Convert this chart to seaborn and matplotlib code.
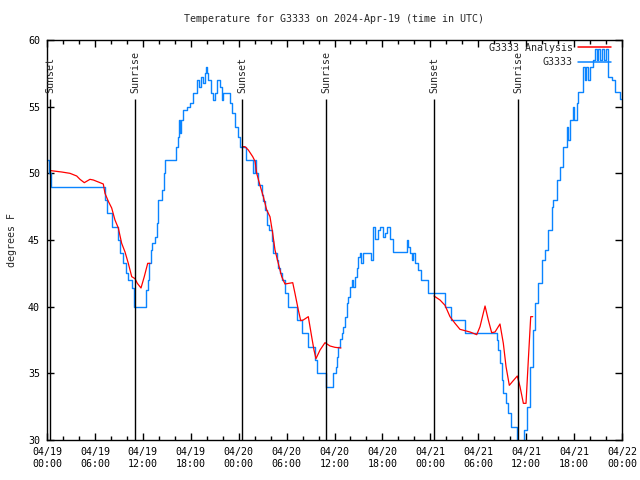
"""
Temperature for G3333: observations (step line) vs analysis, with sunrise/sunset markers.
"""

import matplotlib
matplotlib.use("Agg")
import matplotlib.pyplot as plt
import matplotlib.dates as mdates
from matplotlib.lines import Line2D
import pandas as pd
import seaborn as sns

START = pd.Timestamp("2024-04-19 00:00")

# observed temperature (hours since start, degrees F) - drawn as steps
obs_hours = [
    0.00, 0.25, 0.50, 7.26, 7.51, 8.14, 8.83, 9.14, 9.48, 9.85, 10.18, 10.61, 10.93,
    12.40, 12.61, 12.77, 12.99, 13.11, 13.52, 13.74, 13.94, 14.44, 14.59, 14.78,
    16.12, 16.44, 16.53, 16.65, 16.78, 17.07, 17.49, 17.91, 18.32, 18.75, 19.03,
    19.28, 19.53, 19.78, 19.91, 20.03, 20.20, 20.53, 20.82, 21.04, 21.25, 21.66,
    21.88, 22.08, 22.92, 23.20, 23.54, 23.95, 24.17, 24.88, 25.76, 26.05, 26.17,
    26.46, 26.88, 27.09, 27.30, 27.51, 27.84, 28.14, 28.34, 28.77, 28.96, 29.18,
    29.39, 29.80, 30.22, 31.27, 31.89, 32.72, 33.56, 33.77, 34.94, 35.78, 36.19,
    36.36, 36.49, 36.69, 36.90, 37.10, 37.32, 37.53, 37.73, 37.94, 38.16, 38.32,
    38.57, 38.78, 38.98, 39.19, 39.38, 39.61, 40.45, 40.57, 40.78, 40.86, 41.07,
    41.48, 41.70, 42.11, 42.32, 42.61, 42.95, 43.29, 45.04, 45.24, 45.45, 45.66,
    45.82, 46.08, 46.49, 46.83, 47.75, 49.84, 50.55, 52.34, 56.31, 56.51, 56.72,
    56.94, 57.14, 57.48, 57.76, 58.06, 58.89, 59.73, 60.07, 60.48, 60.89, 61.11,
    61.52, 61.95, 62.36, 62.77, 63.20, 63.40, 63.82, 64.24, 64.65, 65.07, 65.27,
    65.49, 65.82, 65.99, 66.33, 66.53, 67.16, 67.37, 67.55, 67.78, 67.99, 68.40,
    68.62, 68.81, 69.00, 69.25, 69.50, 69.75, 70.00, 70.29, 70.71, 71.13, 71.75,
    72.00,
]
obs_temps = [
    51.0, 50.0, 49.0, 48.0, 47.0, 46.0, 45.0, 44.0, 43.25, 42.5, 42.0, 41.4, 40.0,
    41.25, 42.0, 43.3, 44.25, 44.8, 45.25, 46.25, 48.0, 48.75, 50.0, 51.0,
    52.0, 52.75, 54.0, 53.0, 54.0, 54.75, 55.0, 55.25, 56.0, 57.0, 56.5,
    57.2, 56.8, 57.5, 58.0, 57.5, 57.0, 56.0, 55.5, 56.0, 57.0, 56.5,
    55.5, 56.0, 55.25, 54.5, 53.5, 52.75, 52.0, 51.0, 50.0, 51.0, 50.0,
    49.1, 48.4, 47.9, 47.25, 46.1, 45.75, 44.9, 44.0, 43.5, 42.9, 42.5,
    42.0, 41.0, 40.0, 39.0, 38.0, 37.0, 36.0, 35.0, 34.0, 35.0, 35.5,
    36.25, 37.0, 37.6, 38.0, 38.5, 39.25, 40.25, 40.75, 41.5, 42.0, 41.5,
    42.25, 42.9, 43.75, 44.0, 43.25, 44.0, 44.0, 43.5, 45.25, 46.0, 45.1,
    45.75, 46.0, 45.25, 45.5, 46.0, 45.1, 44.1, 45.0, 44.5, 44.0, 43.5,
    44.0, 43.25, 42.75, 42.0, 41.0, 40.0, 39.0, 38.0, 37.5, 36.75, 35.75,
    34.5, 33.5, 32.75, 32.0, 31.0, 29.0, 30.75, 32.5, 35.5, 38.25, 40.25,
    41.75, 43.5, 44.25, 45.75, 47.5, 48.0, 49.5, 50.5, 52.0, 53.5, 52.5,
    54.0, 55.0, 54.0, 55.25, 56.1, 58.0, 57.0, 58.0, 57.0, 58.0, 58.5,
    59.3, 58.5, 59.3, 58.5, 59.3, 58.5, 59.3, 57.25, 57.0, 56.1, 55.6,
    55.6,
]

# analysis temperature, only available between sunset and the following morning
ana_hours = [
    0.50, 1.84, 2.88, 3.72, 4.13, 4.67, 5.38, 5.80, 6.64, 7.05, 7.26, 7.68, 8.10,
    8.51, 8.93, 9.35, 9.77, 10.18, 10.61, 11.02, 11.31, 11.77, 12.18, 12.61, 12.90,
    24.45, 24.79, 25.21, 25.76, 26.05, 26.26, 26.67, 27.09, 27.51, 27.92, 28.26,
    28.55, 28.96, 29.39, 29.80, 30.77, 31.05, 31.47, 31.77, 32.09, 32.72, 33.14,
    33.43, 33.68, 34.19, 34.81, 35.44, 36.06, 36.81,
    48.46, 49.21, 49.84, 50.46, 51.09, 51.71, 52.34, 52.97, 53.81, 54.22, 54.85,
    55.26, 55.68, 56.10, 56.72, 57.14, 57.48, 57.89, 58.31, 58.89, 59.23, 59.65,
    59.98, 60.27, 60.57, 60.82,
]
ana_temps = [
    50.2, 50.1, 50.0, 49.8, 49.55, 49.3, 49.55, 49.5, 49.3, 49.2, 48.5, 47.9, 47.4,
    46.5, 45.9, 44.75, 44.1, 43.25, 42.25, 42.1, 41.75, 41.4, 42.25, 43.25, 43.25,
    52.0, 52.0, 51.75, 51.25, 50.9, 50.0, 49.1, 48.25, 47.25, 46.75, 45.5,
    44.25, 43.25, 42.25, 41.7, 41.8, 41.0, 39.75, 38.95, 39.0, 39.25, 37.75,
    36.75, 36.1, 36.75, 37.3, 37.05, 36.95, 36.9,
    40.8, 40.5, 40.1, 39.25, 38.75, 38.3, 38.2, 38.1, 37.9, 38.5, 40.05,
    39.0, 38.05, 38.1, 38.7, 37.25, 35.5, 34.1, 34.4, 34.8, 34.0, 32.75,
    32.75, 36.0, 39.25, 39.25,
]
# one id per night: the analysis line is broken between nights
ana_segment = [1] * 25 + [2] * 29 + [3] * 26

sunset_hours = [0.42, 24.45, 48.5]
sunrise_hours = [11.06, 34.98, 59.0]

OBS_COLOR = "#0a84ff"
ANA_COLOR = "#ff0000"
FONT = ["DejaVu Sans Mono"]
FS = 7.2


def to_time(hours):
    return START + pd.to_timedelta(pd.Series(hours), unit="h")


obs = pd.DataFrame({"time": to_time(obs_hours), "temp": obs_temps})
ana = pd.DataFrame({"time": to_time(ana_hours), "temp": ana_temps, "seg": ana_segment})

sns.set_style("ticks")
plt.rcParams["font.family"] = FONT
plt.rcParams["font.size"] = FS

fig = plt.figure(figsize=(6.4, 4.8), dpi=100)
ax = fig.add_axes([47 / 640, 40 / 480, 575 / 640, 400 / 480])

sns.lineplot(data=obs, x="time", y="temp", ax=ax, color=OBS_COLOR,
             linewidth=1.0, drawstyle="steps-post", legend=False)
sns.lineplot(data=ana, x="time", y="temp", units="seg", estimator=None, ax=ax,
             color=ANA_COLOR, linewidth=0.9, legend=False)

# sunrise / sunset markers: the label sits right above the top of the line
for label, hours in (("Sunset", sunset_hours), ("Sunrise", sunrise_hours)):
    for t in to_time(hours):
        ax.vlines(t, 30, 55.6, color="black", linewidth=1.0)
        ax.text(t, 56.0, label, rotation=90, ha="center", va="bottom", fontsize=FS)

ax.set_xlim(START, START + pd.Timedelta(hours=72))
ax.set_ylim(30, 60)
ax.set_yticks(range(30, 61, 5))
ax.xaxis.set_major_locator(mdates.HourLocator(byhour=[0, 6, 12, 18]))
ax.xaxis.set_minor_locator(mdates.HourLocator(byhour=range(0, 24, 2)))
ax.xaxis.set_major_formatter(mdates.DateFormatter("%m/%d\n%H:%M"))
ax.tick_params(which="both", direction="in", top=True, right=True, color="black",
               labelsize=FS, labelcolor="black")
ax.tick_params(which="major", length=5, width=1, pad=5)
ax.tick_params(which="minor", length=3, width=1)
for s in ax.spines.values():
    s.set_visible(True)
    s.set_color("black")
    s.set_linewidth(1)

ax.set_xlabel("")
ax.set_ylabel("degrees F", fontsize=FS, labelpad=8)
ax.set_title("Temperature for G3333 on 2024-Apr-19 (time in UTC)", fontsize=FS, pad=13)

handles = [Line2D([], [], color=ANA_COLOR, linewidth=1.1),
           Line2D([], [], color=OBS_COLOR, linewidth=1.1)]
ax.legend(handles, ["G3333 Analysis", "G3333"], loc="upper right", frameon=False,
          bbox_to_anchor=(0.987, 1.003), borderaxespad=0,
          markerfirst=False, handlelength=3.3, labelspacing=0.45,
          handletextpad=0.5, fontsize=FS)

fig.savefig("out.png", dpi=100)
